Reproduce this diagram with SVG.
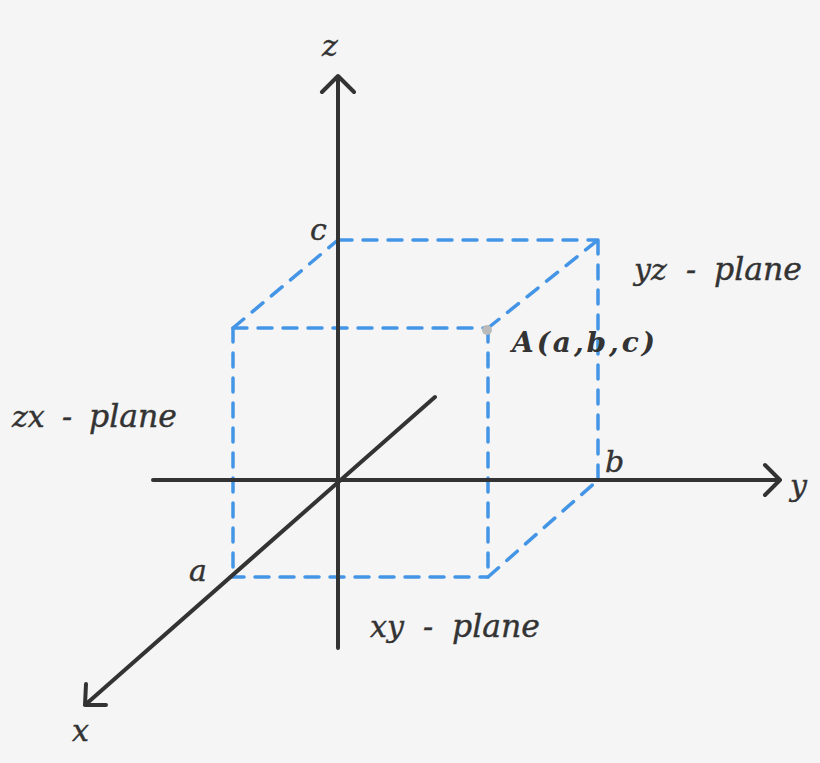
<svg xmlns="http://www.w3.org/2000/svg" width="820" height="763" viewBox="0 0 820 763">
<style>
.axis{stroke:#333;stroke-width:4;fill:none;stroke-linecap:round;stroke-linejoin:round}
.dash{stroke:#4495e6;stroke-width:3.5;fill:none;stroke-dasharray:14 11;stroke-linecap:round}
.lbl{font-family:"DejaVu Serif","Liberation Serif",serif;font-style:italic;fill:#333;font-size:30px;stroke:#333;stroke-width:0.4}
.pl{font-size:31.5px}
</style>
<rect width="820" height="763" fill="#f5f5f5"/>
<g id="connectors">
<g id="cube">
<path class="dash" d="M338 240 H598 M598 240 V480"/>
<path class="dash" d="M233 328 H488 M233 328 V577 M488 328 V577 M230 577 H488"/>
<path class="dash" d="M233 328 L338 240 M488 328 L598 240 M488 577 L598 480"/>
</g>
<g id="axes">
<path class="axis" d="M338 648 V76 M322 92 L338 76 L354 92"/>
<path class="axis" d="M153 480 H780 M765 465 L780 480 L765 495"/>
<path class="axis" d="M435 397 L85 705 M86 684 L85 705 L106 705"/>
</g>
</g>
<g id="pointA"><circle cx="487" cy="330" r="5" fill="#bbb"/></g>
<g id="labels">
<text class="lbl" x="322" y="56">z</text>
<text class="lbl" x="310" y="240">c</text>
<text class="lbl" y="280"><tspan x="634">yz</tspan><tspan x="686">-</tspan><tspan x="714" class="pl">plane</tspan></text>
<text class="lbl" x="512" y="352" textLength="143" lengthAdjust="spacing" style="font-weight:bold;stroke-width:0;font-size:28px">A(a,b,c)</text>
<text class="lbl" y="427"><tspan x="12">zx</tspan><tspan x="62">-</tspan><tspan x="89" class="pl">plane</tspan></text>
<text class="lbl" x="605" y="472">b</text>
<text class="lbl" x="790" y="496">y</text>
<text class="lbl" x="189" y="581">a</text>
<text class="lbl" y="637"><tspan x="370">xy</tspan><tspan x="423">-</tspan><tspan x="452" class="pl">plane</tspan></text>
<text class="lbl" x="72" y="741">x</text>
</g>
</svg>
